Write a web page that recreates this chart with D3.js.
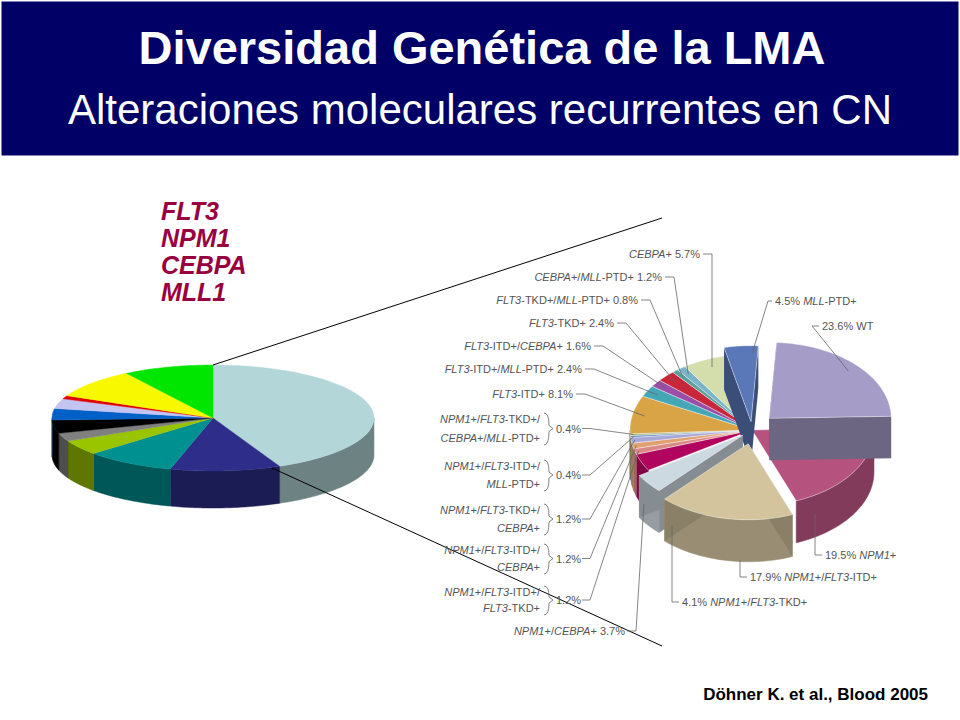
<!DOCTYPE html><html><head><meta charset="utf-8"><script src="https://cdn.jsdelivr.net/npm/d3@7"></script>
<style>body{margin:0;background:#fff}svg{display:block;font-family:Arial,"Liberation Sans",sans-serif}</style></head><body><svg id="c" width="960" height="720"></svg>
<script>
const leftValues=[43,11,9,4.5,2.5,4,3.5,3,1,9,9];
const leftColors=["#b3d6d8","#2e2e8a","#009090","#99c400","#808080","#000000","#0060c8","#c4c4f0","#e00000","#f8f800","#00e600"];
const rightLabels=["WT","NPM1+","NPM1+/FLT3-ITD+","NPM1+/FLT3-TKD+","NPM1+/CEBPA+","NPM1+/FLT3-ITD+/FLT3-TKD+","NPM1+/FLT3-ITD+/CEBPA+","NPM1+/FLT3-TKD+/CEBPA+","NPM1+/FLT3-ITD+/MLL-PTD+","NPM1+/FLT3-TKD+/CEBPA+/MLL-PTD+","FLT3-ITD+","FLT3-ITD+/MLL-PTD+","FLT3-ITD+/CEBPA+","FLT3-TKD+","FLT3-TKD+/MLL-PTD+","CEBPA+/MLL-PTD+","CEBPA+","MLL-PTD+"];
const rightValues=[23.6,19.5,17.9,4.1,3.7,1.2,1.2,1.2,0.4,0.4,8.1,2.4,1.6,2.4,0.8,1.2,5.7,4.5];
const rightColors=["#a59cc8","#b5527e","#d3c49e","#cdd9e0","#b0045e","#d98a86","#e0a070","#a8a8d8","#6a8ac4","#98b878","#d8a445","#45a6b6","#9a4ea6","#c8263a","#5aa09a","#7ab4c8","#d4deac","#5a78b8"];
const rightExplode=[24,0,20,12,0,0,0,0,0,0,0,0,0,0,0,0,0,12];
const genes=["FLT3","NPM1","CEBPA","MLL1"];
const svg=d3.select("#c");
svg.append("rect").attr("x",1).attr("y",1).attr("width",958).attr("height",155).attr("fill","#000066").attr("stroke","#fff");
svg.append("text").attr("x",482).attr("y",64).attr("text-anchor","middle").attr("fill","#fff").attr("font-size",47).attr("font-weight","bold").text("Diversidad Genética de la LMA");
svg.append("text").attr("x",480).attr("y",124).attr("text-anchor","middle").attr("fill","#fff").attr("font-size",42).text("Alteraciones moleculares recurrentes en CN");
genes.forEach((g,i)=>svg.append("text").attr("x",161).attr("y",220+i*27).attr("fill","#990040").attr("font-size",25).attr("font-weight","bold").attr("font-style","italic").text(g));
svg.append("text").attr("x",928).attr("y",700).attr("text-anchor","end").attr("font-size",17).attr("font-weight","bold").text("Döhner K. et al., Blood 2005");

function pie3d(g,values,colors,o,explode){
  const arcs=d3.pie().sort(null).startAngle(o.start||0).endAngle((o.start||0)+2*Math.PI)(values);
  const P=(a,dx,dy,r=1)=>[o.cx+dx+o.rx*r*Math.sin(a),o.cy+dy-o.ry*r*Math.cos(a)];
  const items=arcs.map((d,i)=>{const m=(d.startAngle+d.endAngle)/2,e=explode?explode[i]:0;return{d,i,e,dx:e*Math.sin(m),dy:-e*Math.cos(m)*0.7,m}});
  const dk=c=>d3.color(c).darker(o.dark);
  function walls(it){
    [[Math.max(it.d.startAngle,Math.PI/2),Math.min(it.d.endAngle,3*Math.PI/2)],[Math.max(it.d.startAngle,Math.PI*2.5),Math.min(it.d.endAngle,Math.PI*3.5)]].forEach(([a,b])=>{ if(b<=a)return; const pts=[];
      for(let t=0;t<=40;t++){pts.push(P(a+(b-a)*t/40,it.dx,it.dy));}
      for(let t=40;t>=0;t--){const p=P(a+(b-a)*t/40,it.dx,it.dy);pts.push([p[0],p[1]+o.depth]);}
      g.append("path").attr("d","M"+pts.map(p=>p.join(",")).join("L")+"Z").attr("fill",dk(colors[it.i])).attr("stroke",dk(colors[it.i])).attr("stroke-width",0.5);
    });
    if(it.e>0){[it.d.startAngle,it.d.endAngle].forEach(a=>{const c=[o.cx+it.dx,o.cy+it.dy],p=P(a,it.dx,it.dy);
        g.append("path").attr("d",`M${c}L${p}L${p[0]},${p[1]+o.depth}L${c[0]},${c[1]+o.depth}Z`).attr("fill",d3.color(colors[it.i]).darker(o.dark+0.3));});}
  }
  function top(it){const pts=[[o.cx+it.dx,o.cy+it.dy]];const a=it.d.startAngle,b=it.d.endAngle,n=Math.max(2,Math.ceil((b-a)*40));
    for(let t=0;t<=n;t++)pts.push(P(a+(b-a)*t/n,it.dx,it.dy));
    g.append("path").attr("d","M"+pts.map(p=>p.join(",")).join("L")+"Z").attr("fill",colors[it.i]).attr("stroke",o.stroke||colors[it.i]).attr("stroke-width",0.4);}
  const base=items.filter(it=>!it.e),ex=items.filter(it=>it.e).sort((a,b)=>a.dy-b.dy);
  base.forEach(walls);base.forEach(top);ex.forEach(it=>{walls(it);top(it);});
  return items.map(it=>({...it,anchor:(r)=>P(it.m,it.dx,it.dy,r)}));
}
pie3d(svg.append("g"),leftValues,leftColors,{cx:213,cy:418,rx:161,ry:53,depth:37,dark:1.4});
svg.append("line").attr("x1",213).attr("y1",365).attr("x2",662).attr("y2",218).attr("stroke","#000");
svg.append("line").attr("x1",272).attr("y1",468).attr("x2",662).attr("y2",646).attr("stroke","#000");
const R=pie3d(svg.append("g"),rightValues,rightColors,{cx:752,cy:430,rx:122,ry:76,depth:42,start:0.06,stroke:"#fff",dark:0.9},rightExplode);

function rich(t,s,x,y,anchor){const el=svg.append("text").attr("x",x).attr("y",y).attr("text-anchor",anchor).attr("font-size",11).attr("fill","#555");
  s.split(/(FLT3|NPM1|CEBPA|MLL)/).filter(q=>q).forEach(q=>el.append("tspan").attr("font-style",/^(FLT3|NPM1|CEBPA|MLL)$/.test(q)?"italic":"normal").text(q));return el;}
const lc="#666";
function leader(pts){svg.append("path").attr("d","M"+pts.map(p=>p.join(",")).join("L")).attr("fill","none").attr("stroke",lc).attr("stroke-width",0.8);}
const single=[[16,"CEBPA+ 5.7%",700,258],[15,"CEBPA+/MLL-PTD+ 1.2%",662,281],[14,"FLT3-TKD+/MLL-PTD+ 0.8%",638,304],[13,"FLT3-TKD+ 2.4%",614,327],[12,"FLT3-ITD+/CEBPA+ 1.6%",591,350],[11,"FLT3-ITD+/MLL-PTD+ 2.4%",582,373],[10,"FLT3-ITD+ 8.1%",573,398]];
single.forEach(([i,s,x,y])=>{rich(0,s,x,y,"end");const a=R[i].anchor(0.9);
  if(i==16)leader([[x+3,y-4],[712,y-4],[712,a[1]]]); else leader([[x+3,y-4],[x+12,y-4],a]);});
const groups=[[9,"NPM1+/FLT3-TKD+/","CEBPA+/MLL-PTD+","0.4%",423,442],[8,"NPM1+/FLT3-ITD+/","MLL-PTD+","0.4%",470,488],[7,"NPM1+/FLT3-TKD+/","CEBPA+","1.2%",514,532],[6,"NPM1+/FLT3-ITD+/","CEBPA+","1.2%",554,571],[5,"NPM1+/FLT3-ITD+/","FLT3-TKD+","1.2%",596,612]];
groups.forEach(([i,l1,l2,p,y1,y2])=>{rich(0,l1,540,y1,"end");rich(0,l2,540,y2,"end");
  const ym=(y1+y2)/2-4;svg.append("path").attr("d",`M544,${y1-10}Q549,${y1-10} 549,${ym-3}L553,${ym}L549,${ym+3}Q549,${y2+3} 544,${y2+3}`).attr("fill","none").attr("stroke",lc).attr("stroke-width",0.8);
  rich(0,p,556,ym+4,"start");const a=R[i].anchor(0.97);leader([[582,ym],[590,ym],a]);});
rich(0,"NPM1+/CEBPA+ 3.7%",625,635,"end");{const a=R[4].anchor(0.98);leader([[627,631],[636,631],[a[0],a[1]+42]]);}
const rightL=[[17,"4.5% MLL-PTD+",775,305],[0,"23.6% WT",822,330],[1,"19.5% NPM1+",825,559],[2,"17.9% NPM1+/FLT3-ITD+",750,581],[3,"4.1% NPM1+/FLT3-TKD+",682,606]];
rightL.forEach(([i,s,x,y])=>{rich(0,s,x,y,"start");const a=R[i].anchor(0.9);
  if(i==17)leader([[x-3,y-4],[768,y-4],[a[0]+10,a[1]]]);
  else if(i==0)leader([[x-3,y-4],[812,y-4],[a[0],a[1]]]);
  else {const b=R[i].anchor(1);leader([[x-3,y-4],[x-10,y-4],[x-10,b[1]+42]]);}});
</script></body></html>
